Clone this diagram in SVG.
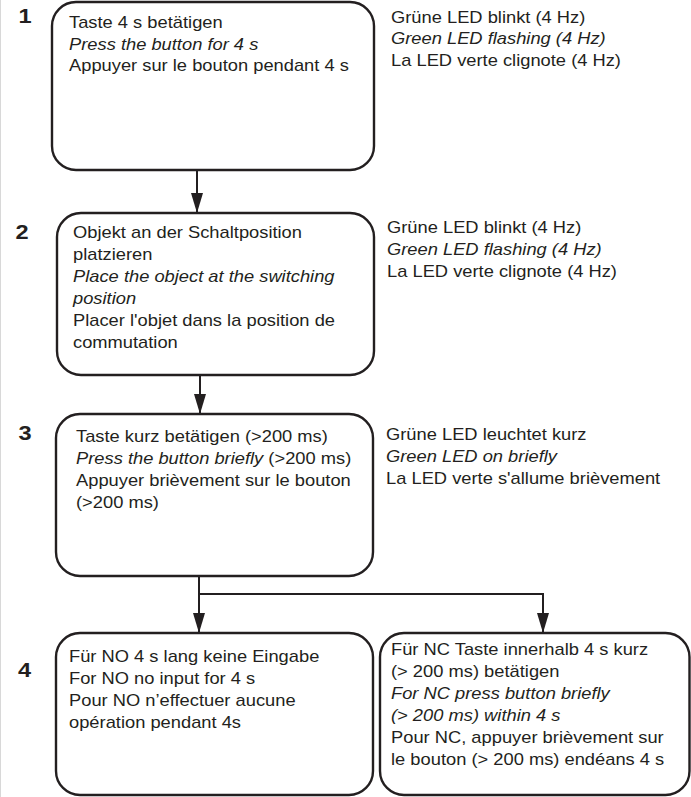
<svg xmlns="http://www.w3.org/2000/svg" width="691" height="797" viewBox="0 0 691 797">
<style>
.box{fill:#fff;stroke:#231f20;stroke-width:2.4}
.t{font-family:"Liberation Sans",Arial,sans-serif;font-size:16px;fill:#231f20}
.i{font-style:italic}
.num{font-family:"Liberation Sans",Arial,sans-serif;font-size:20px;font-weight:bold;fill:#231f20;text-anchor:middle}
.con{fill:none;stroke:#231f20;stroke-width:2;marker-end:url(#ah)}
</style>
<defs>
<marker id="ah" viewBox="0 0 20 12" refX="20" refY="6" markerWidth="20" markerHeight="12" markerUnits="userSpaceOnUse" orient="auto">
<path d="M0,0 L20,6 L0,12 z" fill="#231f20"/>
</marker>
</defs>
<rect x="0" y="0" width="691" height="797" fill="#fff"/>
<line x1="0.5" y1="0" x2="0.5" y2="797" stroke="#d8d8d8" stroke-width="1"/>

<g id="connectors">
<line class="con" x1="197" y1="170" x2="197" y2="213"/>
<line class="con" x1="200" y1="375" x2="200" y2="414"/>
<line class="con" x1="199" y1="576" x2="199" y2="633"/>
<polyline class="con" points="199,594 543,594 543,633"/>
</g>

<g id="step1">
<text class="num" transform="translate(25 0) scale(1.18 1)" y="23">1</text>
<rect class="box" x="52" y="2" width="322" height="168" rx="24"/>
<text class="t" transform="translate(69 0) scale(1.145 1)">
<tspan x="0" y="28">Taste 4 s betätigen</tspan>
<tspan x="0" y="50" class="i">Press the button for 4 s</tspan>
<tspan x="0" y="71">Appuyer sur le bouton pendant 4 s</tspan>
</text>
</g>
<g id="led1">
<text class="t" transform="translate(391 0) scale(1.145 1)">
<tspan x="0" y="23">Grüne LED blinkt (4 Hz)</tspan>
<tspan x="0" y="44.5" class="i">Green LED flashing (4 Hz)</tspan>
<tspan x="0" y="66">La LED verte clignote (4 Hz)</tspan>
</text>
</g>

<g id="step2">
<text class="num" transform="translate(22 0) scale(1.18 1)" y="239">2</text>
<rect class="box" x="57" y="213" width="317" height="162" rx="24"/>
<text class="t" transform="translate(73 0) scale(1.145 1)">
<tspan x="0" y="238">Objekt an der Schaltposition</tspan>
<tspan x="0" y="260">platzieren</tspan>
<tspan x="0" y="282" class="i">Place the object at the switching</tspan>
<tspan x="0" y="304" class="i">position</tspan>
<tspan x="0" y="326">Placer l'objet dans la position de</tspan>
<tspan x="0" y="348">commutation</tspan>
</text>
</g>
<g id="led2">
<text class="t" transform="translate(387 0) scale(1.145 1)">
<tspan x="0" y="233">Grüne LED blinkt (4 Hz)</tspan>
<tspan x="0" y="255" class="i">Green LED flashing (4 Hz)</tspan>
<tspan x="0" y="277">La LED verte clignote (4 Hz)</tspan>
</text>
</g>

<g id="step3">
<text class="num" transform="translate(25 0) scale(1.18 1)" y="440">3</text>
<rect class="box" x="56" y="414" width="317" height="162" rx="24"/>
<text class="t" transform="translate(76 0) scale(1.145 1)">
<tspan x="0" y="442">Taste kurz betätigen (&gt;200 ms)</tspan>
<tspan x="0" y="464"><tspan class="i">Press the button briefly</tspan> (&gt;200 ms)</tspan>
<tspan x="0" y="486">Appuyer brièvement sur le bouton</tspan>
<tspan x="0" y="508">(&gt;200 ms)</tspan>
</text>
</g>
<g id="led3">
<text class="t" transform="translate(386 0) scale(1.145 1)">
<tspan x="0" y="440">Grüne LED leuchtet kurz</tspan>
<tspan x="0" y="462" class="i">Green LED on briefly</tspan>
<tspan x="0" y="484">La LED verte s'allume brièvement</tspan>
</text>
</g>

<g id="step4">
<text class="num" transform="translate(24.5 0) scale(1.18 1)" y="677">4</text>
<rect class="box" x="56" y="633" width="317" height="162" rx="24"/>
<text class="t" transform="translate(69 0) scale(1.145 1)">
<tspan x="0" y="662">Für NO 4 s lang keine Eingabe</tspan>
<tspan x="0" y="684">For NO no input for 4 s</tspan>
<tspan x="0" y="706">Pour NO n’effectuer aucune</tspan>
<tspan x="0" y="728">opération pendant 4s</tspan>
</text>
</g>
<g id="step4nc">
<rect class="box" x="380" y="633" width="309.5" height="162" rx="24"/>
<text class="t" transform="translate(391 0) scale(1.145 1)">
<tspan x="0" y="655">Für NC Taste innerhalb 4 s kurz</tspan>
<tspan x="0" y="677">(&gt; 200 ms) betätigen</tspan>
<tspan x="0" y="699" class="i">For NC press button briefly</tspan>
<tspan x="0" y="721" class="i">(&gt; 200 ms) within 4 s</tspan>
<tspan x="0" y="743">Pour NC, appuyer brièvement sur</tspan>
<tspan x="0" y="765">le bouton (&gt; 200 ms) endéans 4 s</tspan>
</text>
</g>
</svg>
